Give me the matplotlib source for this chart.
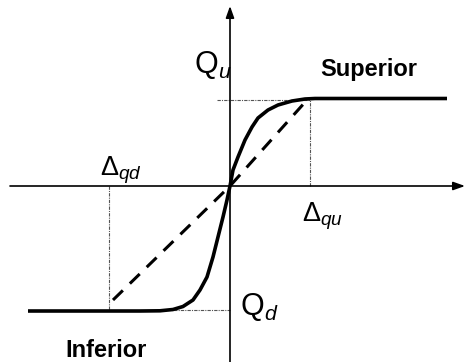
import matplotlib.pyplot as plt

plt.rcParams['font.family'] = ['Liberation Sans', 'DejaVu Sans']
plt.rcParams['mathtext.fontset'] = 'custom'
plt.rcParams['mathtext.rm'] = 'Liberation Sans'
plt.rcParams['mathtext.it'] = 'Liberation Sans:italic'

# key values of the backbone curve
delta_qu, q_u = 80, 87.5
delta_qd, q_d = -121, -125

# solid curve (left to right)
curve_x = [-202, -90, -70, -57, -47, -37, -30, -23, -17, -12, -7, -3, 0,
           3, 8, 15, 22, 28, 38, 48, 62, 75, 85, 217]
curve_y = [-125, -125, -124.8, -123.5, -120.5, -114, -104, -91, -71, -51, -31, -14, 0,
           16, 29, 46, 59, 68, 76, 81, 85, 87, 87.5, 87.5]

# dashed secant line
dash_x = [-117, 0, 77]
dash_y = [-114, 0, 86]

fig = plt.figure(figsize=(4.65, 3.62), dpi=100)
ax = fig.add_axes([0, 0, 1, 1])
ax.set_xlim(-230, 235)
ax.set_ylim(-176, 186)
ax.axis('off')

# axes with arrows
arrow = dict(arrowstyle='-|>,head_length=0.7,head_width=0.25',
             color='black', lw=1.2, shrinkA=0, shrinkB=0)
ax.annotate('', xy=(235, 0), xytext=(-220, 0), arrowprops=arrow,
            annotation_clip=False)
ax.annotate('', xy=(0, 180), xytext=(0, -176), arrowprops=arrow,
            annotation_clip=False)

# guide lines
guide = dict(color='#555555', lw=0.8, linestyle=(0, (3, 1, 1, 1)))
ax.plot([-13, delta_qu], [q_u - 1, q_u - 1], **guide)
ax.plot([delta_qu, delta_qu], [0, q_u - 1], **guide)
ax.plot([delta_qd, delta_qd], [0, q_d], **guide)
ax.plot([-63, 0], [q_d + 1.5, q_d + 1.5], **guide)

ax.plot(dash_x, dash_y, color='black', lw=2.2, linestyle=(0, (4.5, 3.2)))
ax.plot(curve_x, curve_y, color='black', lw=2.6, solid_capstyle='butt',
        solid_joinstyle='round')

ax.text(-36, 113, r'$\mathrm{Q}_{u}$', fontsize=22, ha='left', va='baseline')
ax.text(90, 110, 'Superior', fontsize=17, fontweight='bold', ha='left', va='baseline')
ax.text(-130, 10, r'$\mathrm{Δ}_{qd}$', fontsize=19.5, ha='left', va='baseline')
ax.text(72, -35, r'$\mathrm{Δ}_{qu}$', fontsize=19.5, ha='left', va='baseline')
ax.text(10, -129, r'$\mathrm{Q}_{d}$', fontsize=22, ha='left', va='baseline')
ax.text(-165, -171, 'Inferior', fontsize=17, fontweight='bold', ha='left', va='baseline')

fig.savefig('out.png', dpi=100)
